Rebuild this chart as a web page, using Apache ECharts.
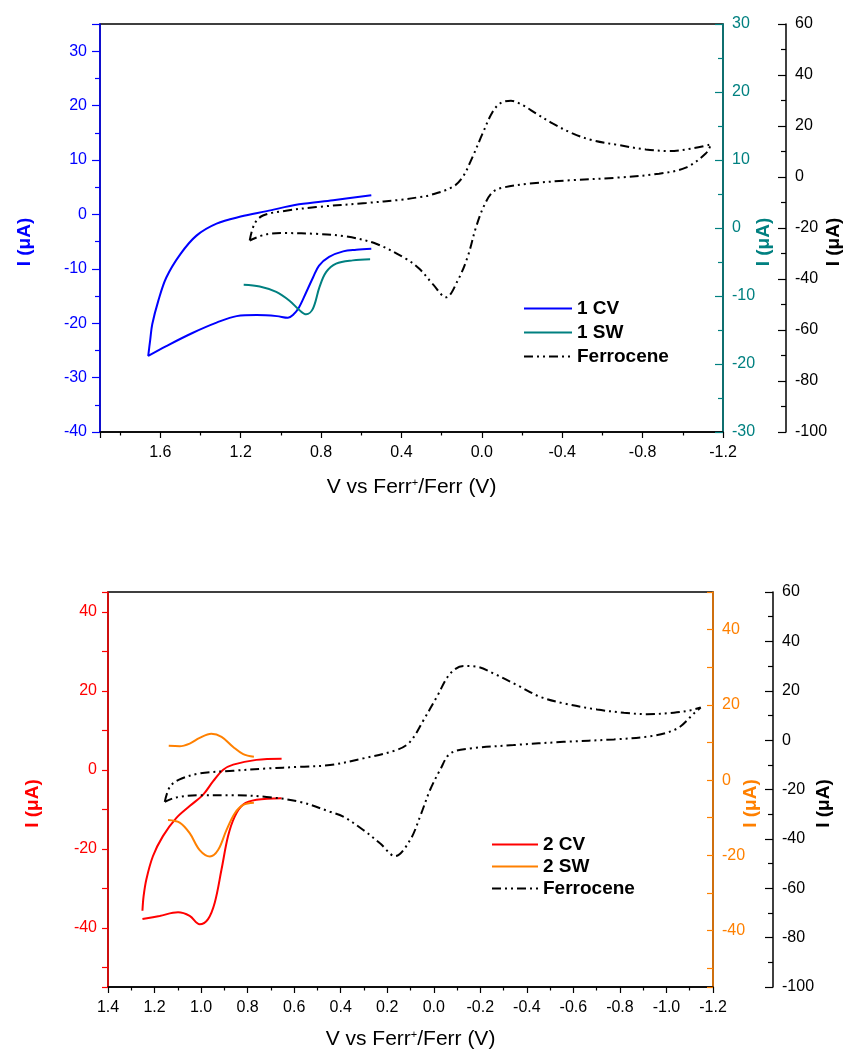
<!DOCTYPE html>
<html>
<head>
<meta charset="utf-8">
<script src="https://cdn.jsdelivr.net/npm/echarts@6/dist/echarts.min.js"></script>
<style>
  html, body { margin: 0; padding: 0; background: #fff; }
  #main { width: 847px; height: 1055px; }
</style>
</head>
<body>
<div id="main"></div>
<script>
// ---- top panel: sample 1 ----
var cv1V = [0.55, 0.74, 0.91, 1.07, 1.20, 1.32, 1.42, 1.50, 1.57, 1.61, 1.64, 1.65, 1.66,
            1.57, 1.44, 1.32, 1.22, 1.12, 1.02, 0.965, 0.94, 0.91, 0.875, 0.84, 0.81, 0.76, 0.69, 0.625, 0.55];
var cv1I = [3.5, 2.6, 1.85, 0.6, -0.4, -1.7, -3.9, -7.3, -11.6, -15.9, -20.2, -23.0, -26.0,
            -24.2, -21.8, -19.9, -18.7, -18.5, -18.7, -19.0, -18.5, -17.1, -14.4, -11.6, -9.4, -7.8, -6.8, -6.5, -6.3];

var sw1V = [1.185, 1.105, 1.023, 0.957, 0.907, 0.874, 0.841, 0.808, 0.775, 0.725, 0.642, 0.556];
var sw1I = [-8.35, -8.6, -9.4, -10.7, -12.1, -12.7, -11.9, -8.7, -6.5, -5.25, -4.76, -4.6];

var fc1V = [1.155, 1.131, 1.089, 0.99, 0.824, 0.576, 0.40, 0.311, 0.261, 0.145, 0.095, 0.046, -0.004, -0.054,
            -0.095, -0.145, -0.203, -0.270, -0.352, -0.451, -0.551, -0.683, -0.816, -0.932, -1.048, -1.14,
            -1.114, -1.015, -0.882, -0.683, -0.435, -0.236, -0.103, -0.054, -0.012, 0.029, 0.071, 0.120,
            0.178, 0.245, 0.311, 0.377, 0.526, 0.675, 0.824, 0.973, 1.073, 1.155];
var fc1I = [-24.9, -18.3, -15.1, -13.4, -11.8, -10.2, -8.9, -7.9, -7.2, -3.9, 0, 7.9, 17.1, 25.6,
            29.1, 29.9, 28.2, 24.9, 21.0, 17.1, 14.4, 12.5, 10.8, 10.2, 11.2, 12.8,
            9.2, 3.7, 1.3, -0.2, -1.3, -2.6, -4.2, -5.9, -11.1, -19.7, -31.4, -40.6,
            -47.2, -41.9, -36.0, -32.1, -26.2, -23.3, -22.3, -22.0, -22.5, -24.9];

// ---- bottom panel: sample 2 ----
var cv2V = [0.654, 0.762, 0.862, 0.905, 0.948, 0.991, 1.049, 1.106, 1.164, 1.207, 1.235, 1.247, 1.252, null,
            1.252, 1.178, 1.099, 1.049, 1.006, 0.970, 0.941, 0.912, 0.884, 0.855, 0.819, 0.762, 0.654];
var cv2I = [2.8, 2.5, 1.3, 0, -2.9, -6.3, -9.2, -12.2, -16.8, -21.9, -27.7, -32.0, -35.7, null,
            -37.8, -37.0, -36.1, -37.0, -39.1, -37.8, -33.6, -25.2, -16.8, -11.8, -8.8, -7.6, -7.2];

var sw2V = [1.139, 1.092, 1.049, 1.006, 0.956, 0.912, 0.862, 0.819, 0.773, null,
            1.142, 1.092, 1.049, 1.006, 0.962, 0.927, 0.891, 0.855, 0.819, 0.773];
var sw2I = [9.1, 9.0, 9.7, 11.2, 12.3, 11.5, 8.8, 6.9, 6.2, null,
            -10.6, -11.3, -14.1, -18.6, -20.3, -18.6, -13.3, -8.8, -6.6, -6.0];

var fc2V = [1.156, 1.134, 1.092, 1.006, 0.862, 0.719, 0.575, 0.446, 0.303, 0.159, 0.102, 0.044, -0.013, -0.071,
            -0.128, -0.186, -0.257, -0.358, -0.458, -0.558, -0.702, -0.817, -0.917, -1.032, -1.104, -1.147,
            -1.118, -1.046, -0.932, -0.774, -0.558, -0.343, -0.157, -0.071, -0.027, 0.016, 0.059, 0.102,
            0.166, 0.231, 0.303, 0.389, 0.446, 0.575, 0.719, 0.862, 1.006, 1.106, 1.156];
var fc2I = [-25.0, -18.9, -15.9, -13.5, -12.4, -11.5, -10.8, -10.1, -7.4, -4.0, -0.7, 8.1, 17.5, 27.0,
            30.0, 29.7, 27.0, 22.3, 17.5, 14.9, 12.4, 11.1, 10.5, 11.1, 12.1, 13.2,
            10.8, 4.7, 1.6, 0.3, -0.7, -2.0, -3.4, -5.4, -12.1, -20.2, -31.0, -40.5,
            -47.0, -41.8, -36.4, -31.0, -29.0, -25.0, -23.0, -22.3, -22.3, -23.2, -25.0];

var legend1 = ['1 CV', '1 SW', 'Ferrocene'];
var legend2 = ['2 CV', '2 SW', 'Ferrocene'];

var FONT = 'Liberation Sans, Arial, sans-serif';
var BLUE = '#0000ff', TEAL = '#008080', RED = '#ff0000', ORANGE = '#ff8000', BLACK = '#000000';
var DASHDOTDOT = [9, 4, 2, 4, 2, 4];

function pairs(xs, ys) {
  return xs.map(function (x, i) {
    return x === null ? ['-', '-'] : [x, ys[i]];
  });
}

function xAxisCfg(grid, min, max, interval, gap, margin, showMax) {
  return {
    type: 'value', gridIndex: grid, inverse: true,
    min: min, max: max, interval: interval,
    name: 'V vs Ferr{sup|+}/Ferr (V)', nameLocation: 'middle', nameGap: gap, nameMoveOverlap: false,
    nameTextStyle: {
      fontFamily: FONT, fontSize: 21, color: BLACK,
      rich: { sup: { fontFamily: FONT, fontSize: 11, verticalAlign: 'top', color: BLACK, padding: [0, 0, 10, 0] } }
    },
    axisLine: { show: true, onZero: false, lineStyle: { color: BLACK, width: 1.5 } },
    axisTick: { show: true, length: 6, lineStyle: { color: BLACK, width: 1.2 } },
    minorTick: { show: true, splitNumber: 2, length: 3.5, lineStyle: { color: BLACK, width: 1.2 } },
    splitLine: { show: false },
    axisLabel: {
      fontFamily: FONT, fontSize: 16, color: BLACK, margin: margin, showMaxLabel: showMax,
      formatter: function (v) { return (Math.abs(v) < 1e-9 ? 0 : v).toFixed(1); }
    }
  };
}

// y axis: step = tick spacing, labelStep = spacing of labelled ticks
function yAxisCfg(o) {
  var cfg = {
    type: 'value', gridIndex: o.grid, position: o.pos, offset: o.offset || 0,
    min: o.min, max: o.max,
    name: 'I (μA)', nameLocation: 'middle', nameRotate: 90, nameGap: o.nameGap, nameMoveOverlap: false,
    nameTextStyle: { fontFamily: FONT, fontSize: 19, fontWeight: 'bold', color: o.color, padding: [0, 28, 0, 0] },
    axisLine: { show: true, onZero: false, lineStyle: { color: o.color, width: 1.5 } },
    axisTick: { show: true, inside: !!o.inside, length: o.minor ? 8 : 6, lineStyle: { color: o.color, width: 1.2 } },
    splitLine: { show: false },
    axisLabel: {
      fontFamily: FONT, fontSize: 16, color: o.color, margin: o.margin,
      showMinLabel: o.showMin !== false, showMaxLabel: o.showMax !== false,
      formatter: function (v) {
        var r = Math.round(v);
        return (Math.abs(v - r) < 1e-6 && r % o.labelStep === 0) ? String(r) : '';
      }
    }
  };
  if (o.minor) {
    cfg.interval = o.step;
    cfg.minorTick = { show: true, splitNumber: 2, length: 5, lineStyle: { color: o.color, width: 1.2 } };
  } else {
    cfg.minInterval = o.step;
    cfg.maxInterval = o.step;
  }
  return cfg;
}

var myChart = echarts.init(document.getElementById('main'), null, { renderer: 'canvas' });

var option = {
  animation: false,
  backgroundColor: '#ffffff',
  grid: [
    { left: 100, top: 24, width: 623, height: 408, outerBoundsMode: 'none', containLabel: false,
      show: true, borderColor: BLACK, borderWidth: 1.5, backgroundColor: 'transparent' },
    { left: 108, top: 592, width: 605, height: 395, outerBoundsMode: 'none', containLabel: false,
      show: true, borderColor: BLACK, borderWidth: 1.5, backgroundColor: 'transparent' }
  ],
  legend: [
    {
      orient: 'vertical', left: 518, top: 294, data: legend1,
      itemWidth: 48, itemHeight: 14, itemGap: 5, selectedMode: false,
      itemStyle: { opacity: 0 },
      textStyle: { fontFamily: FONT, fontSize: 19, fontWeight: 'bold', color: BLACK }
    },
    {
      orient: 'vertical', left: 486, top: 830, data: legend2,
      itemWidth: 46, itemHeight: 14, itemGap: 3, selectedMode: false,
      itemStyle: { opacity: 0 },
      textStyle: { fontFamily: FONT, fontSize: 19, fontWeight: 'bold', color: BLACK }
    }
  ],
  xAxis: [
    xAxisCfg(0, -1.2, 1.9, 0.4, 45, 13, false),
    xAxisCfg(1, -1.2, 1.4, 0.2, 42, 13, true)
  ],
  yAxis: [
    yAxisCfg({ grid: 0, pos: 'left', min: -40, max: 35, step: 10, labelStep: 10, minor: true, color: BLUE, margin: 13, nameGap: 66, showMax: false }),
    yAxisCfg({ grid: 0, pos: 'right', min: -30, max: 30, step: 10, labelStep: 10, minor: true, inside: true, color: TEAL, margin: 9, nameGap: 31 }),
    yAxisCfg({ grid: 0, pos: 'right', offset: 63, min: -100, max: 60, step: 20, labelStep: 20, minor: true, inside: true, color: BLACK, margin: 9, nameGap: 38 }),
    yAxisCfg({ grid: 1, pos: 'left', min: -55, max: 45, step: 10, labelStep: 20, color: RED, margin: 11, nameGap: 66 }),
    yAxisCfg({ grid: 1, pos: 'right', min: -55, max: 50, step: 10, labelStep: 20, inside: true, color: ORANGE, margin: 9, nameGap: 28 }),
    yAxisCfg({ grid: 1, pos: 'right', offset: 60, min: -100, max: 60, step: 20, labelStep: 20, minor: true, inside: true, color: BLACK, margin: 9, nameGap: 41 })
  ],
  series: [
    {
      name: '1 CV', type: 'line', xAxisIndex: 0, yAxisIndex: 0, symbol: 'none', smooth: 0.35,
      color: BLUE, lineStyle: { color: BLUE, width: 2 }, data: pairs(cv1V, cv1I)
    },
    {
      name: '1 SW', type: 'line', xAxisIndex: 0, yAxisIndex: 1, symbol: 'none', smooth: 0.35,
      color: TEAL, lineStyle: { color: TEAL, width: 2 }, data: pairs(sw1V, sw1I)
    },
    {
      name: 'Ferrocene', type: 'line', xAxisIndex: 0, yAxisIndex: 2, symbol: 'none', smooth: 0.35,
      color: BLACK, lineStyle: { color: BLACK, width: 2, type: DASHDOTDOT }, data: pairs(fc1V, fc1I)
    },
    {
      name: '2 CV', type: 'line', xAxisIndex: 1, yAxisIndex: 3, symbol: 'none', smooth: 0.35, connectNulls: false,
      color: RED, lineStyle: { color: RED, width: 2 }, data: pairs(cv2V, cv2I)
    },
    {
      name: '2 SW', type: 'line', xAxisIndex: 1, yAxisIndex: 4, symbol: 'none', smooth: 0.35, connectNulls: false,
      color: ORANGE, lineStyle: { color: ORANGE, width: 2 }, data: pairs(sw2V, sw2I)
    },
    {
      name: 'Ferrocene', type: 'line', xAxisIndex: 1, yAxisIndex: 5, symbol: 'none', smooth: 0.35,
      color: BLACK, lineStyle: { color: BLACK, width: 2, type: DASHDOTDOT }, data: pairs(fc2V, fc2I)
    }
  ]
};
myChart.setOption(option);
</script>
</body>
</html>
